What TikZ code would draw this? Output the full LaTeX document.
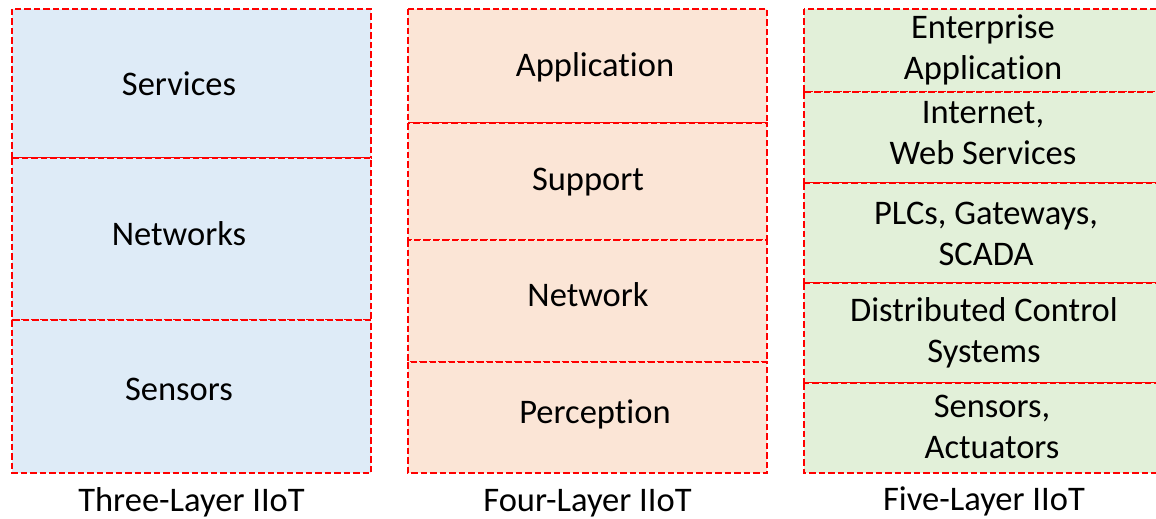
\documentclass[tikz,border=0pt]{standalone}
\usepackage{fontspec}
\setmainfont{Carlito}[Ligatures={NoCommon}]
\definecolor{lblue}{HTML}{DEEBF7}
\definecolor{lorange}{HTML}{FBE5D6}
\definecolor{lgreen}{HTML}{E2F0D9}
\definecolor{dred}{HTML}{FF0000}
\tikzset{
  layerbox/.style={draw=dred, line width=2.4pt, dash pattern=on 6.5pt off 3pt},
  lbl/.style={inner sep=0pt, anchor=base, align=center, font=\fontsize{34.5}{41}\selectfont},
}
\begin{document}
\begin{tikzpicture}[x=1pt,y=-1pt]
\useasboundingbox (0,0) rectangle (1156,519);
% three-layer
\filldraw[layerbox, fill=lblue] (12,9) rectangle (371,158);
\filldraw[layerbox, fill=lblue] (12,158) rectangle (371,320);
\filldraw[layerbox, fill=lblue] (12,320) rectangle (371,473);
% four-layer
\filldraw[layerbox, fill=lorange] (408,9) rectangle (767,123);
\filldraw[layerbox, fill=lorange] (408,123) rectangle (767,240);
\filldraw[layerbox, fill=lorange] (408,240) rectangle (767,362);
\filldraw[layerbox, fill=lorange] (408,362) rectangle (767,473);
% five-layer
\filldraw[layerbox, fill=lgreen] (804,9) rectangle (1163,92);
\filldraw[layerbox, fill=lgreen] (804,92) rectangle (1163,183);
\filldraw[layerbox, fill=lgreen] (804,183) rectangle (1163,283);
\filldraw[layerbox, fill=lgreen] (804,283) rectangle (1163,383);
\filldraw[layerbox, fill=lgreen] (804,383) rectangle (1163,473);
% texts
\node[lbl] (t1) at (179,95) {Services};
\node[lbl] (t2) at (179,245) {Networks};
\node[lbl] (t3) at (179,400) {Sensors};
\node[lbl] (f1) at (595,77) {Application};
\node[lbl] (f2) at (588,190) {Support};
\node[lbl] (f3) at (588,306) {Network};
\node[lbl] (f4) at (595,423) {Perception};
\node[lbl] (v1) at (983,80) {Enterprise\\Application};
\node[lbl] (v2) at (983,164) {Internet,\\Web Services};
\node[lbl] (v3) at (986,265) {PLCs, Gateways,\\SCADA};
\node[lbl] (v4) at (984,362) {Distributed Control\\Systems};
\node[lbl] (v5) at (992,458) {Sensors,\\Actuators};
\node[lbl] (c1) at (191.5,511) {Three-Layer IIoT};
\node[lbl] (c2) at (587.5,511) {Four-Layer IIoT};
\node[lbl] (c3) at (984,510) {Five-Layer IIoT};
\end{tikzpicture}
\end{document}
